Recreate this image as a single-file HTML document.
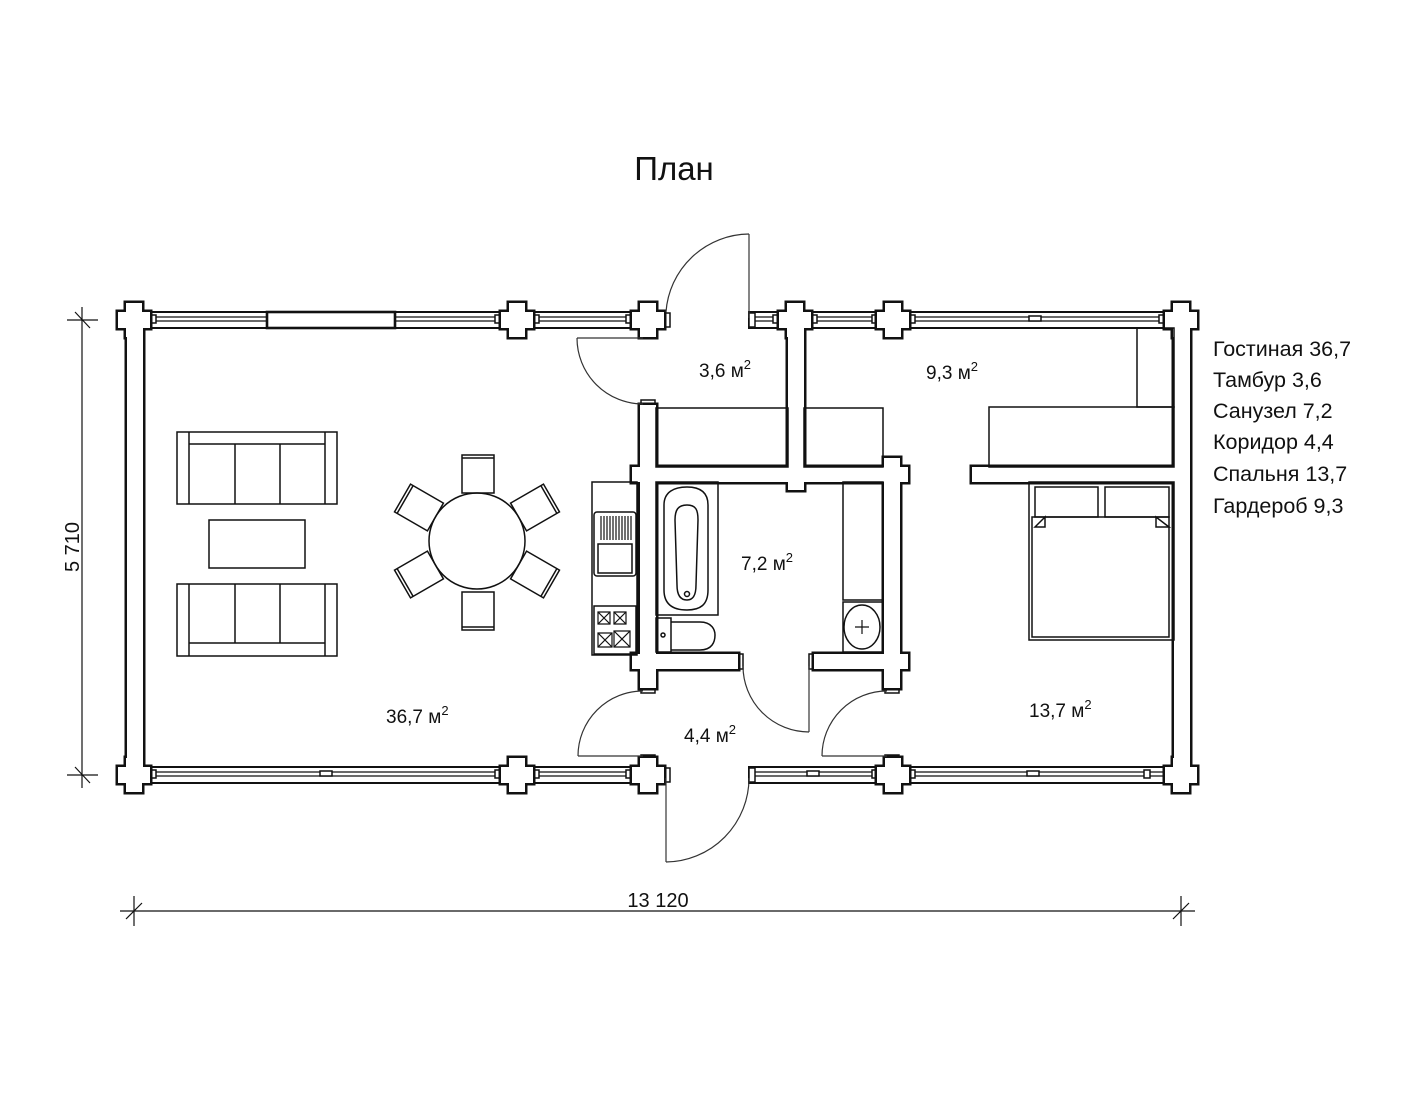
<!DOCTYPE html>
<html><head><meta charset="utf-8"><style>
html,body{margin:0;padding:0;background:#fff;}
svg{display:block;}
text{font-family:"Liberation Sans","DejaVu Sans",sans-serif;fill:#111;}
</style></head><body>
<svg width="1422" height="1100" viewBox="0 0 1422 1100" xmlns="http://www.w3.org/2000/svg">
<rect width="1422" height="1100" fill="#fff"/>
<text x="674" y="180" font-size="33" text-anchor="middle">План</text>

<g fill="#fff" stroke="#111" stroke-width="2">
<rect x="134" y="312" width="530" height="16"/>
<rect x="749" y="312" width="432" height="16"/>
<rect x="134" y="767" width="530" height="16"/>
<rect x="749" y="767" width="432" height="16"/>
</g>
<g stroke="#111" stroke-width="1.2">
<line x1="134" y1="317" x2="664" y2="317"/><line x1="134" y1="321" x2="664" y2="321"/>
<line x1="749" y1="317" x2="1181" y2="317"/><line x1="749" y1="321" x2="1181" y2="321"/>
<line x1="134" y1="772" x2="664" y2="772"/><line x1="134" y1="776" x2="664" y2="776"/>
<line x1="749" y1="772" x2="1181" y2="772"/><line x1="749" y1="776" x2="1181" y2="776"/>
</g>
<g fill="#fff" stroke="#111" stroke-width="1.5">
<rect x="150" y="315" width="6" height="8"/><rect x="495" y="315" width="6" height="8"/>
<rect x="533" y="315" width="6" height="8"/><rect x="626" y="315" width="6" height="8"/>
<rect x="664" y="313" width="6" height="14"/><rect x="749" y="313" width="6" height="14"/>
<rect x="773" y="315" width="6" height="8"/><rect x="811" y="315" width="6" height="8"/>
<rect x="872" y="315" width="6" height="8"/><rect x="909" y="315" width="6" height="8"/>
<rect x="1029" y="316" width="12" height="5"/><rect x="1159" y="315" width="6" height="8"/>
<rect x="320" y="771" width="12" height="5"/><rect x="807" y="771" width="12" height="5"/>
<rect x="1027" y="771" width="12" height="5"/>
<rect x="664" y="768" width="6" height="14"/><rect x="749" y="768" width="6" height="14"/>
<rect x="150" y="770" width="6" height="8"/><rect x="495" y="770" width="6" height="8"/>
<rect x="533" y="770" width="6" height="8"/><rect x="626" y="770" width="6" height="8"/>
<rect x="872" y="770" width="6" height="8"/><rect x="909" y="770" width="6" height="8"/>
<rect x="1144" y="770" width="6" height="8"/>
<rect x="641" y="400" width="14" height="6"/><rect x="641" y="687" width="14" height="6"/>
<rect x="885" y="687" width="14" height="6"/><rect x="885" y="755" width="14" height="6"/>
<rect x="641" y="755" width="14" height="6"/>
<rect x="738" y="654" width="5" height="15"/><rect x="809" y="654" width="5" height="15"/>
</g>
<rect x="267" y="312" width="128" height="16" fill="#fff" stroke="#111" stroke-width="2.6"/>

<defs>
<g id="walls">
<rect x="127" y="320" width="16" height="455"/>
<rect x="1174" y="320" width="16" height="455"/>
<path d="M126,303h16v9h8v16h-8v9h-16v-9h-8v-16h8z"/>
<path d="M509,303h16v9h8v16h-8v9h-16v-9h-8v-16h8z"/>
<path d="M640,303h16v9h8v16h-8v9h-16v-9h-8v-16h8z"/>
<path d="M787,303h16v9h8v16h-8v9h-16v-9h-8v-16h8z"/>
<path d="M885,303h16v9h8v16h-8v9h-16v-9h-8v-16h8z"/>
<path d="M1173,303h16v9h8v16h-8v9h-16v-9h-8v-16h8z"/>
<path d="M126,758h16v9h8v16h-8v9h-16v-9h-8v-16h8z"/>
<path d="M509,758h16v9h8v16h-8v9h-16v-9h-8v-16h8z"/>
<path d="M640,758h16v9h8v16h-8v9h-16v-9h-8v-16h8z"/>
<path d="M885,758h16v9h8v16h-8v9h-16v-9h-8v-16h8z"/>
<path d="M1173,758h16v9h8v16h-8v9h-16v-9h-8v-16h8z"/>
<rect x="788" y="320" width="16" height="170"/>
<rect x="632" y="467" width="276" height="15"/>
<rect x="640" y="405" width="16" height="283"/>
<rect x="884" y="458" width="16" height="230"/>
<rect x="632" y="654" width="106" height="15"/>
<rect x="814" y="654" width="94" height="15"/>
<rect x="972" y="467" width="202" height="15"/>
</g>
</defs>
<use href="#walls" fill="#111" stroke="#111" stroke-width="5" stroke-linejoin="miter"/>
<use href="#walls" fill="#fff" stroke="none"/>

<g fill="none" stroke="#333" stroke-width="1.2">
<line x1="749" y1="234" x2="749" y2="318"/><path d="M749,234 A84,84 0 0 0 666,312"/>
<line x1="577" y1="338" x2="643" y2="338"/><path d="M577,338 A66,66 0 0 0 643,404"/>
<line x1="666" y1="778" x2="666" y2="862"/><path d="M666,862 A84,84 0 0 0 749,778"/>
<line x1="578" y1="756" x2="643" y2="756"/><path d="M578,756 A65,65 0 0 1 643,691"/>
<line x1="809" y1="666" x2="809" y2="732"/><path d="M743,666 A66,66 0 0 0 809,732"/>
<line x1="822" y1="756" x2="887" y2="756"/><path d="M822,756 A65,65 0 0 1 887,691"/>
</g>

<g fill="none" stroke="#111" stroke-width="1.5">
<rect x="656" y="408" width="132" height="59"/>
<rect x="804" y="408" width="79" height="59"/>
<rect x="989" y="407" width="185" height="60"/>
<rect x="1137" y="328" width="37" height="79"/>
<rect x="1029" y="482" width="145" height="158"/>
<rect x="1032" y="517" width="137" height="120"/>
<rect x="1035" y="487" width="63" height="30"/>
<rect x="1105" y="487" width="64" height="30"/>
<path d="M1035,527 L1045,517 L1045,527 Z M1169,527 L1156,517 L1156,527 Z"/>
<rect x="177" y="432" width="160" height="72"/>
<path d="M189,432V504M325,432V504M189,444H325M235,444V504M280,444V504"/>
<rect x="209" y="520" width="96" height="48"/>
<rect x="177" y="584" width="160" height="72"/>
<path d="M189,584V656M325,584V656M189,643H325M235,584V643M280,584V643"/>
<circle cx="477" cy="541" r="48"/>
<rect x="462" y="455" width="32" height="38"/><line x1="462" y1="458" x2="494" y2="458"/>
<rect x="462" y="592" width="32" height="38"/><line x1="462" y1="627" x2="494" y2="627"/>
<g transform="rotate(-60 477 541)"><rect x="461" y="455" width="32" height="38"/><line x1="461" y1="458" x2="493" y2="458"/></g>
<g transform="rotate(60 477 541)"><rect x="461" y="455" width="32" height="38"/><line x1="461" y1="458" x2="493" y2="458"/></g>
<g transform="rotate(120 477 541)"><rect x="461" y="455" width="32" height="38"/><line x1="461" y1="458" x2="493" y2="458"/></g>
<g transform="rotate(-120 477 541)"><rect x="461" y="455" width="32" height="38"/><line x1="461" y1="458" x2="493" y2="458"/></g>
<rect x="592" y="482" width="45" height="173"/>
<rect x="594" y="512" width="42" height="64" rx="3"/>
<rect x="598" y="544" width="34" height="29"/>
<rect x="594" y="606" width="42" height="48"/>
<rect x="656" y="482" width="62" height="133"/>
<path d="M687,487 C700,487 708,492 708,505 L708,590 C708,605 700,610 687,610 C674,610 664,605 664,590 L664,505 C664,492 674,487 687,487Z"/>
<path d="M687,505 C696,505 698,510 698,520 L696,585 C696,597 692,600 687,600 C682,600 677,597 677,585 L675,520 C675,510 678,505 687,505Z"/>
<circle cx="687" cy="594" r="2.5"/>
<rect x="656" y="618" width="15" height="34"/>
<path d="M671,622 H700 C712,622 715,630 715,635 C715,642 712,650 700,650 H671"/>
<circle cx="663" cy="635" r="2"/>
<rect x="843" y="482" width="40" height="118"/>
<rect x="843" y="602" width="40" height="50"/>
<ellipse cx="862" cy="627" rx="18" ry="22"/>
</g>
<g stroke="#111" stroke-width="1.2">
<path d="M601,516V540M604,516V540M607,516V540M610,516V540M613,516V540M616,516V540M619,516V540M622,516V540M625,516V540M628,516V540M631,516V540"/>
<path d="M598,612h12v12h-12zM614,612h12v12h-12zM598,633h14v14h-14zM614,631h16v16h-16z" fill="none"/>
<path d="M598,612l12,12M610,612l-12,12M614,612l12,12M626,612l-12,12M598,633l14,14M612,633l-14,14M614,631l16,16M630,631l-16,16"/>
<path d="M862,620V634M855,627H869"/>
</g>

<g font-size="19">
<text x="699" y="377">3,6 м<tspan font-size="13" dy="-8">2</tspan></text>
<text x="926" y="379">9,3 м<tspan font-size="13" dy="-8">2</tspan></text>
<text x="741" y="570">7,2 м<tspan font-size="13" dy="-8">2</tspan></text>
<text x="386" y="723">36,7 м<tspan font-size="13" dy="-8">2</tspan></text>
<text x="684" y="742">4,4 м<tspan font-size="13" dy="-8">2</tspan></text>
<text x="1029" y="717">13,7 м<tspan font-size="13" dy="-8">2</tspan></text>
</g>
<g font-size="21.5">
<text x="1213" y="356">Гостиная 36,7</text>
<text x="1213" y="387">Тамбур 3,6</text>
<text x="1213" y="418">Санузел 7,2</text>
<text x="1213" y="449">Коридор 4,4</text>
<text x="1213" y="481">Спальня 13,7</text>
<text x="1213" y="513">Гардероб 9,3</text>
</g>
<g stroke="#111" stroke-width="1.2">
<line x1="82" y1="307" x2="82" y2="788"/>
<line x1="67" y1="320" x2="98" y2="320"/><line x1="75" y1="312" x2="90" y2="328"/>
<line x1="67" y1="775" x2="98" y2="775"/><line x1="75" y1="767" x2="90" y2="783"/>
<line x1="120" y1="911" x2="1195" y2="911"/>
<line x1="134" y1="896" x2="134" y2="926"/><line x1="126" y1="919" x2="142" y2="903"/>
<line x1="1181" y1="896" x2="1181" y2="926"/><line x1="1173" y1="919" x2="1189" y2="903"/>
</g>
<text x="658" y="907" font-size="20" text-anchor="middle">13 120</text>
<text transform="translate(79 547) rotate(-90)" font-size="20" text-anchor="middle">5 710</text>
</svg>
</body></html>
